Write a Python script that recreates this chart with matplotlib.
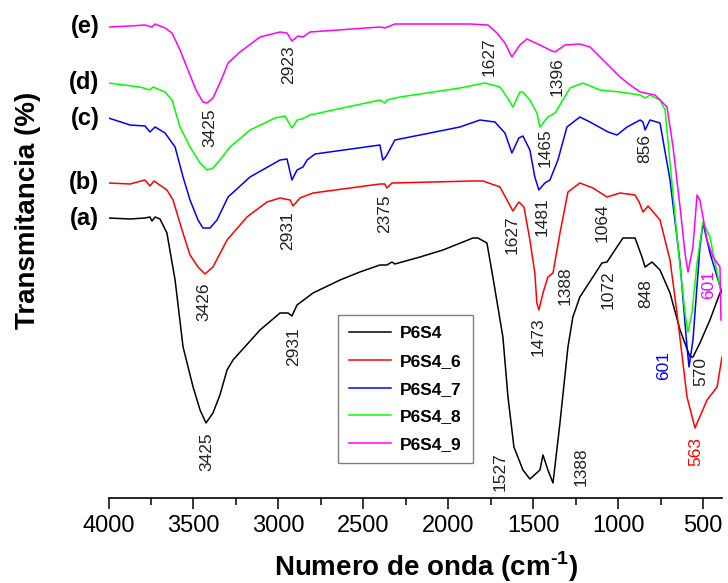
import matplotlib
matplotlib.use("Agg")
import matplotlib.pyplot as plt
from matplotlib.ticker import MultipleLocator

plt.rcParams["font.family"] = ["Liberation Sans", "DejaVu Sans"]
plt.rcParams["mathtext.fontset"] = "custom"
plt.rcParams["mathtext.rm"] = "Liberation Sans:bold"

# FTIR spectra (wavenumber in cm-1, transmittance in a.u.)
wn_a = [4000, 3873, 3785, 3756, 3744, 3726, 3697, 3656, 3608, 3561, 3502, 3461, 3426, 3385,
        3344, 3302, 3267, 3108, 2990, 2943, 2920, 2890, 2796, 2637, 2520, 2402, 2361, 2331,
        2314, 2166, 2031, 1854, 1825, 1772, 1737, 1678, 1648, 1613, 1560, 1519, 1460, 1442,
        1413, 1383, 1342, 1295, 1266, 1225, 1148, 1095, 1065, 1030, 971, 900, 859, 841, 800,
        753, 694, 635, 576, 559, 518, 459, 400]
t_a = [365, 364, 365, 366, 362, 366, 364, 350, 303, 236, 196, 173, 160, 170,
       188, 213, 223, 253, 270, 270, 267, 278, 290, 303, 311, 318, 318, 321,
       319, 326, 333, 345, 345, 340, 306, 246, 186, 136, 113, 104, 113, 128,
       113, 100, 160, 236, 266, 286, 306, 320, 321, 330, 345, 345, 326, 316, 321,
       313, 290, 253, 226, 226, 240, 263, 290]

wn_b = [4000, 3873, 3785, 3756, 3732, 3656, 3620, 3567, 3520, 3473, 3432, 3385, 3302, 3185,
        3067, 2990, 2931, 2914, 2873, 2796, 2402, 2373, 2361, 2331, 1854, 1795, 1695, 1654,
        1619, 1584, 1554, 1519, 1490, 1478, 1466, 1442, 1413, 1383, 1342, 1295, 1225, 1148,
        1065, 988, 900, 876, 853, 823, 753, 694, 653, 594, 547, 476, 417, 388]
t_b = [400, 399, 403, 397, 402, 393, 383, 353, 328, 316, 309, 316, 343, 366,
       381, 385, 383, 377, 385, 390, 399, 399, 395, 400, 402, 402, 396, 383,
       372, 381, 376, 343, 310, 280, 273, 290, 306, 310, 350, 391, 400, 395,
       386, 390, 388, 381, 371, 377, 363, 323, 270, 186, 155, 183, 196, 226]

wn_c = [4000, 3873, 3785, 3756, 3726, 3667, 3608, 3561, 3520, 3473, 3444, 3402, 3361, 3296,
        3167, 2990, 2949, 2920, 2890, 2855, 2831, 2784, 2402, 2385, 2373, 2361, 2314, 2107,
        1931, 1813, 1725, 1666, 1625, 1584, 1560, 1519, 1490, 1466, 1431, 1401, 1354, 1301,
        1225, 1165, 1059, 1006, 947, 870, 853, 841, 812, 753, 694, 635, 594, 582, 559, 518,
        500, 459, 411, 388]
t_c = [465, 458, 457, 451, 456, 450, 436, 406, 383, 363, 355, 355, 363, 386,
       406, 423, 424, 403, 413, 416, 423, 429, 438, 423, 425, 428, 443, 450,
       456, 463, 461, 450, 430, 445, 447, 433, 406, 393, 400, 403, 423, 456,
       466, 461, 451, 448, 456, 463, 461, 453, 463, 460, 403, 320, 236, 216, 243, 336,
       360, 330, 303, 290]

wn_d = [4000, 3815, 3756, 3738, 3667, 3626, 3579, 3520, 3461, 3420, 3385, 3344, 3285, 3167,
        3020, 2961, 2920, 2890, 2861, 2814, 2402, 2373, 2361, 2284, 1931, 1784, 1695, 1654,
        1619, 1578, 1560, 1519, 1478, 1460, 1413, 1371, 1325, 1283, 1207, 1106, 988, 870,
        841, 812, 753, 723, 694, 647, 606, 588, 565, 535, 500, 459, 400]
t_d = [500, 496, 493, 496, 491, 483, 456, 436, 420, 413, 415, 423, 436, 453,
       465, 467, 455, 463, 464, 468, 483, 480, 483, 486, 495, 500, 496, 486,
       476, 491, 491, 483, 470, 456, 466, 470, 483, 495, 500, 493, 491, 488,
       485, 488, 483, 473, 420, 336, 270, 251, 270, 320, 361, 346, 296]

wn_e = [4000, 3873, 3785, 3744, 3726, 3667, 3626, 3579, 3532, 3485, 3444, 3420, 3385, 3344,
        3296, 3226, 3108, 2990, 2949, 2920, 2884, 2855, 2814, 2402, 2373, 2314, 1872, 1766,
        1713, 1666, 1625, 1578, 1537, 1460, 1401, 1371, 1313, 1225, 1165, 1106, 988, 929,
        870, 782, 753, 712, 676, 635, 606, 588, 559, 535, 518, 476, 441, 400, 394]
t_e = [556, 557, 558, 556, 559, 555, 550, 533, 513, 493, 481, 480, 485, 500,
       520, 531, 546, 551, 550, 542, 547, 546, 551, 556, 555, 559, 559, 558,
       550, 540, 526, 538, 544, 538, 533, 531, 538, 539, 536, 526, 506, 498,
       491, 488, 483, 476, 436, 376, 330, 311, 336, 388, 383, 343, 326, 316, 263]

series_names = ["P6S4", "P6S4_6", "P6S4_7", "P6S4_8", "P6S4_9"]
series_tags = ["(a)", "(b)", "(c)", "(d)", "(e)"]
colors = ["black", "#ff0000", "#0000ff", "#00ff00", "#ff00ff"]

xticks = [4000, 3500, 3000, 2500, 2000, 1500, 1000, 500]

# peak labels: text, wavenumber, transmittance, colour
peaks = [
    ("3425", 3402, 455, "#222222"), ("2923", 2937, 518, "#222222"),
    ("1627", 1760, 526, "#222222"), ("1396", 1360, 506, "#222222"),
    ("1465", 1431, 435, "#222222"), ("856", 841, 435, "#222222"),
    ("2375", 2373, 369, "#222222"), ("1627", 1625, 348, "#222222"),
    ("1481", 1448, 366, "#222222"), ("1064", 1095, 360, "#222222"),
    ("2931", 2943, 352, "#222222"), ("3426", 3438, 281, "#222222"),
    ("3425", 3420, 131, "#222222"), ("2931", 2908, 236, "#222222"),
    ("1527", 1695, 111, "#222222"), ("1388", 1218, 116, "#222222"),
    ("1473", 1472, 246, "#222222"), ("1388", 1313, 297, "#222222"),
    ("1072", 1059, 293, "#222222"), ("848", 836, 289, "#222222"),
    ("601", 729, 217, "#0000ff"), ("570", 511, 211, "#222222"),
    ("563", 541, 131, "#ff0000"), ("601", 464, 299, "#ff00ff"),
]

fig = plt.figure(figsize=(7.28, 5.83), dpi=100)
ax = fig.add_axes([108.5 / 728, 85 / 583, (722 - 108.5) / 728, 498 / 583])

all_wn = [wn_a, wn_b, wn_c, wn_d, wn_e]
all_t = [t_a, t_b, t_c, t_d, t_e]
for wn, t, c, name in zip(all_wn, all_t, colors, series_names):
    ax.plot(wn, t, color=c, lw=1.1, label=name)

for txt, x, y, c in peaks:
    ax.text(x, y, txt, rotation=90, ha="center", va="center", fontsize=12.5, color=c)

# (a)..(e) tags on the left, level with the start of each curve
for tag, t in zip(series_tags, all_t):
    ax.text(-0.015, (t[0] - 85) / 498, tag, transform=ax.transAxes, ha="right", va="center",
            fontsize=17, fontweight="bold")

ax.set_xlim(4000, 388)
ax.set_ylim(85, 583)
ax.set_xticks(xticks)
ax.xaxis.set_minor_locator(MultipleLocator(250))
ax.tick_params(axis="x", which="major", length=8, width=1.1, labelsize=17, pad=4)
ax.tick_params(axis="x", which="minor", length=5, width=1.1)
ax.set_yticks([])
for s in ["left", "top", "right"]:
    ax.spines[s].set_visible(False)
ax.spines["bottom"].set_linewidth(1.2)

fig.text(0.585, 1 - 567 / 583, r"Numero de onda (cm$^{\text{-1}}$)", ha="center", va="center",
         fontsize=20, fontweight="bold")
fig.text(28 / 728, 1 - 210 / 583, "Transmitancia (%)", rotation=90, ha="center", va="center",
         fontsize=20, fontweight="bold")

leg = ax.legend(loc="upper left", bbox_to_anchor=(338 / 728, 1 - 315 / 583),
                bbox_transform=fig.transFigure, borderaxespad=0, fancybox=False,
                edgecolor="#808080", framealpha=1, handlelength=2.4, handletextpad=0.5,
                labelspacing=0.72, borderpad=0.65, prop={"size": 12.5, "weight": "bold"})
leg.get_frame().set_linewidth(1.0)

fig.savefig("out.png", dpi=100)
